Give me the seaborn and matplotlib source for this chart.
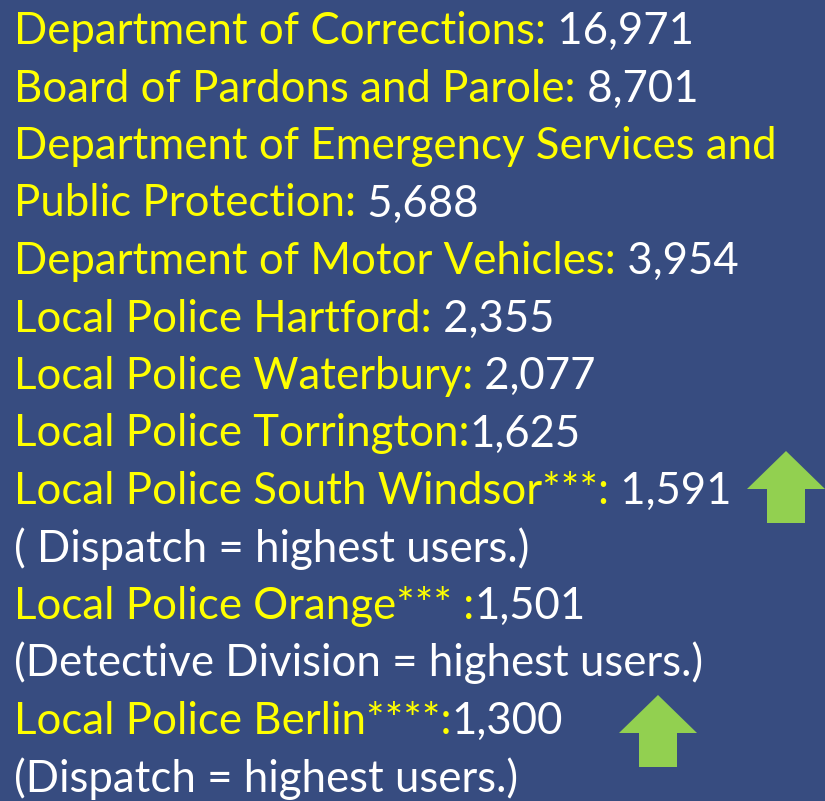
import matplotlib
matplotlib.use("Agg")
import matplotlib.pyplot as plt
import seaborn as sns

# slide content: yellow label, white count, white note lines
labels = [
    "Department of Corrections:",
    "Board of Pardons and Parole:",
    "Department of Emergency Services and",
    "Public Protection:",
    "Department of Motor Vehicles:",
    "Local Police Hartford:",
    "Local Police Waterbury:",
    "Local Police Torrington:",
    "Local Police South Windsor***:",
    "",
    "Local Police Orange*** :",
    "",
    "Local Police Berlin****:",
    "",
]
counts = [" 16,971", " 8,701", "", " 5,688", " 3,954", " 2,355", " 2,077",
          "1,625", " 1,591", "", "1,501", "", "1,300", ""]
notes = ["", "", "", "", "", "", "", "", "",
         "( Dispatch = highest users.)", "",
         "(Detective Division = highest users.)", "",
         "(Dispatch = highest users.)"]
arrow_x = [786, 658]
arrow_top = [451, 695]

sns.set_style("white")
plt.rcParams["font.family"] = ["Lato", "DejaVu Sans"]

bg = "#374C80"
yellow = "#FFFF00"
green = "#92D050"
fs = 31.5

fig = plt.figure(figsize=(8.25, 8.01), dpi=100, facecolor=bg)
ax = fig.add_axes([0, 0, 1, 1])
ax.set_facecolor(bg)
ax.set_xlim(0, 825)
ax.set_ylim(801, 0)
ax.axis("off")

top = 44
step = 57.5
for i in range(len(labels)):
    y = top + i * step
    if labels[i]:
        t = ax.text(14, y, labels[i], color=yellow, fontsize=fs, va="baseline")
        if counts[i]:
            ax.annotate(counts[i], xy=(1, 0), xycoords=t, color="white",
                        fontsize=fs, va="bottom", ha="left")
    if notes[i]:
        ax.text(14, y, notes[i], color="white", fontsize=fs, va="baseline")

# green up arrows
for cx, tip in zip(arrow_x, arrow_top):
    ax.fill([cx - 39, cx, cx + 39, cx + 19, cx + 19, cx - 19, cx - 19],
            [tip + 38, tip, tip + 38, tip + 38, tip + 72, tip + 72, tip + 38],
            color=green, lw=0)

fig.savefig("out.png", dpi=100, facecolor=bg)
